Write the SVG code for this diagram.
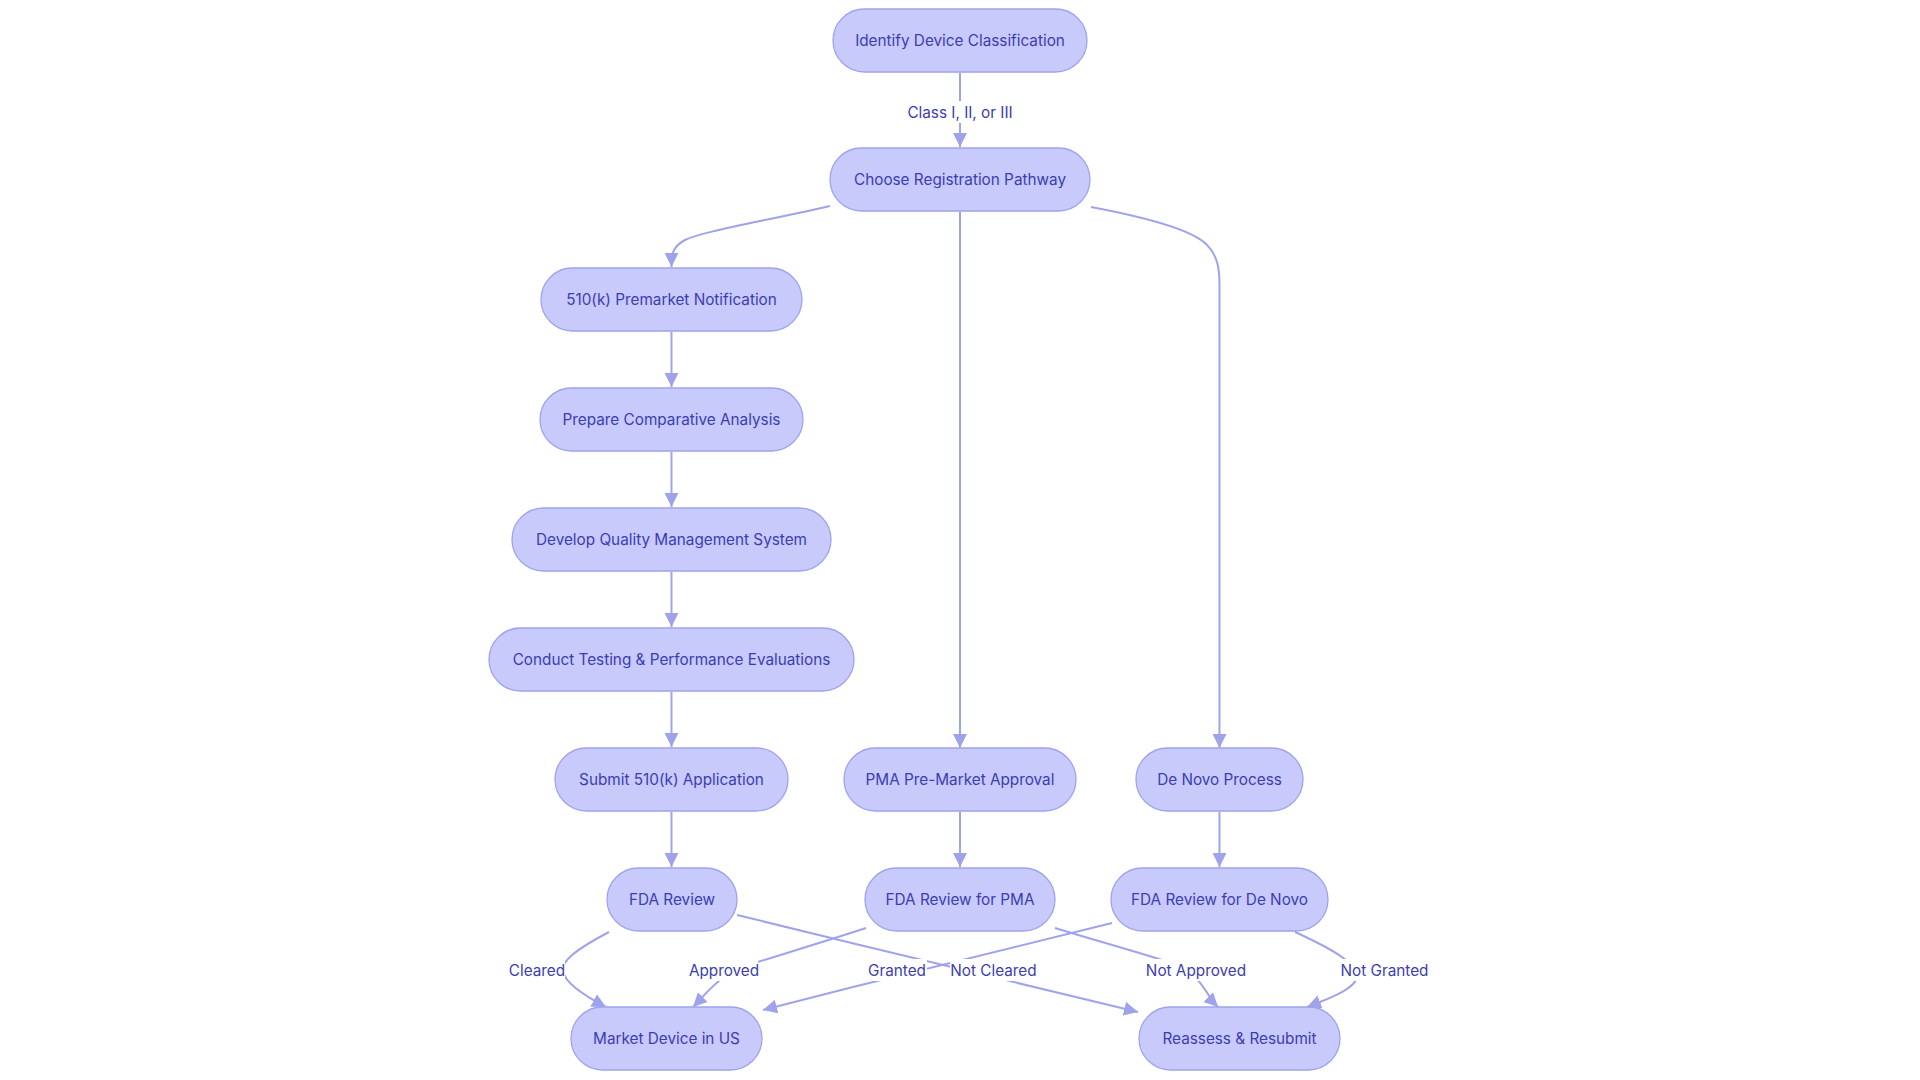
<svg xmlns="http://www.w3.org/2000/svg" width="1920" height="1080" viewBox="0 0 1920 1080">
<style>
  .node rect { fill: #c8cafb; stroke: #9fa3ec; stroke-width: 1.3; }
  .node text, .lbl text { font-family: Inter, "Noto Sans", "Liberation Sans", sans-serif; font-size: 15.3px; fill: #3b3db3; text-anchor: middle; dominant-baseline: central; }
  .edge { fill: none; stroke: #9fa3ec; stroke-width: 2; marker-end: url(#arrow); }
  .lbl rect { fill: #ffffff; }
</style>
<defs>
  <marker id="arrow" viewBox="0 0 10 10" refX="10" refY="5" markerWidth="14" markerHeight="14" markerUnits="userSpaceOnUse" orient="auto">
    <path d="M0,0 L10,5 L0,10 z" fill="#9fa3ec"/>
  </marker>
</defs>
<rect width="1920" height="1080" fill="#ffffff"/>

<g id="connectors">
  <path class="edge" d="M960,73 L960,147"/>
  <path class="edge" d="M830,206 C760,222 700,232 685,240 C672,247 671.5,255 671.5,267"/>
  <path class="edge" d="M960,212 L960,748"/>
  <path class="edge" d="M1091,207 C1160,220 1195,232 1207,245 C1218,256 1219.5,270 1219.5,285 L1219.5,748"/>
  <path class="edge" d="M671.5,332 L671.5,387"/>
  <path class="edge" d="M671.5,452 L671.5,507"/>
  <path class="edge" d="M671.5,572 L671.5,627"/>
  <path class="edge" d="M671.5,692 L671.5,747"/>
  <path class="edge" d="M671.5,812 L671.5,867"/>
  <path class="edge" d="M960,812 L960,867"/>
  <path class="edge" d="M1219.5,812 L1219.5,867"/>
  <path class="edge" d="M609,932 C575,950 560,962 563,972 C566,984 585,996 606,1007"/>
  <path class="edge" d="M866,928 C820,943 780,955 745,966 C718,976 705,995 693,1007"/>
  <path class="edge" d="M1112,923 C1000,950 880,980 763,1010"/>
  <path class="edge" d="M737,915 C870,948 1000,978 1138,1012"/>
  <path class="edge" d="M1055,928 C1100,942 1150,955 1180,966 C1200,975 1206,995 1218,1007"/>
  <path class="edge" d="M1295,932 C1330,948 1355,962 1357,975 C1358,988 1330,998 1307,1007"/>

  <g class="lbl"><rect x="911" y="101" width="98" height="22"/><text x="960" y="112">Class I, II, or III</text></g>
  <g class="lbl"><rect x="509" y="959" width="56" height="22"/><text x="537" y="970">Cleared</text></g>
  <g class="lbl"><rect x="690" y="959" width="68" height="22"/><text x="724" y="970">Approved</text></g>
  <g class="lbl"><rect x="868" y="959" width="59" height="22"/><text x="897" y="970">Granted</text></g>
  <g class="lbl"><rect x="950" y="959" width="87" height="22"/><text x="993.5" y="970">Not Cleared</text></g>
  <g class="lbl"><rect x="1146" y="959" width="100" height="22"/><text x="1196" y="970">Not Approved</text></g>
  <g class="lbl"><rect x="1339" y="959" width="91" height="22"/><text x="1384.5" y="970">Not Granted</text></g>
</g>

<g id="n_identify" class="node"><rect x="833" y="9" width="254" height="63" rx="31.5"/><text x="960" y="40.5">Identify Device Classification</text></g>
<g id="n_choose" class="node"><rect x="830" y="148" width="260" height="63" rx="31.5"/><text x="960" y="179.5">Choose Registration Pathway</text></g>
<g id="n_510k" class="node"><rect x="541" y="268" width="261" height="63" rx="31.5"/><text x="671.5" y="299.5">510(k) Premarket Notification</text></g>
<g id="n_prepare" class="node"><rect x="540" y="388" width="263" height="63" rx="31.5"/><text x="671.5" y="419.5">Prepare Comparative Analysis</text></g>
<g id="n_develop" class="node"><rect x="512" y="508" width="319" height="63" rx="31.5"/><text x="671.5" y="539.5">Develop Quality Management System</text></g>
<g id="n_conduct" class="node"><rect x="489" y="628" width="365" height="63" rx="31.5"/><text x="671.5" y="659.5">Conduct Testing &amp; Performance Evaluations</text></g>
<g id="n_submit" class="node"><rect x="555" y="748" width="233" height="63" rx="31.5"/><text x="671.5" y="779.5">Submit 510(k) Application</text></g>
<g id="n_pma" class="node"><rect x="844" y="748" width="232" height="63" rx="31.5"/><text x="960" y="779.5">PMA Pre-Market Approval</text></g>
<g id="n_denovo" class="node"><rect x="1136" y="748" width="167" height="63" rx="31.5"/><text x="1219.5" y="779.5">De Novo Process</text></g>
<g id="n_fda" class="node"><rect x="607" y="868" width="130" height="63" rx="31.5"/><text x="672" y="899.5">FDA Review</text></g>
<g id="n_fdapma" class="node"><rect x="865" y="868" width="190" height="63" rx="31.5"/><text x="960" y="899.5">FDA Review for PMA</text></g>
<g id="n_fdadenovo" class="node"><rect x="1111" y="868" width="217" height="63" rx="31.5"/><text x="1219.5" y="899.5">FDA Review for De Novo</text></g>
<g id="n_market" class="node"><rect x="571" y="1007" width="191" height="63" rx="31.5"/><text x="666.5" y="1038.5">Market Device in US</text></g>
<g id="n_reassess" class="node"><rect x="1139" y="1007" width="201" height="63" rx="31.5"/><text x="1239.5" y="1038.5">Reassess &amp; Resubmit</text></g>
</svg>
